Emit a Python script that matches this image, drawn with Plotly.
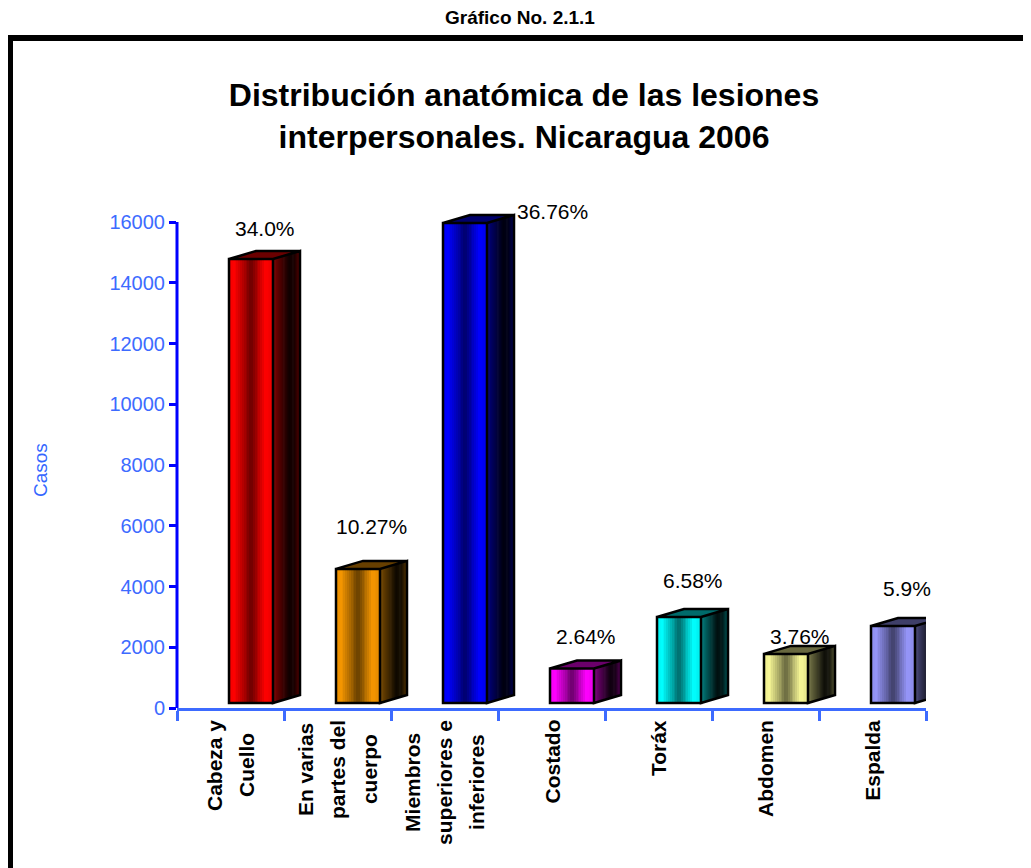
import plotly.graph_objects as go

# ---------------- data ----------------
categories = ["Cabeza y<br>Cuello", "En varias<br>partes del<br>cuerpo", "Miembros<br>superiores e<br>inferiores",
              "Costado", "Toráx", "Abdomen", "Espalda"]
casos = [14617, 4415, 15803, 1135, 2829, 1616, 2536]
pct_labels = ["34.0%", "10.27%", "36.76%", "2.64%", "6.58%", "3.76%", "5.9%"]
label_y = [15770, 5960, 16360, 2370, 4210, 2370, 3950]
y_ticks = [0, 2000, 4000, 6000, 8000, 10000, 12000, 14000, 16000]
y_tick_text = ["0", "2000", "4000", "6000", "8000", "10000", "12000", "14000", "16000"]

# ---------------- style ----------------
bar_colors = [(255, 0, 0), (245, 150, 0), (0, 0, 255), (255, 0, 255), (0, 255, 255), (248, 248, 150), (150, 150, 250)]
label_dx = [0, 0, 0.69, 0, 0, 0, 0]
FONT = "Liberation Sans, Arial, sans-serif"
AX_BLUE = "#0000ff"
LT_BLUE = "#3d6bff"

OFF = 8                      # page body margin
SW, SH = 1031, 868           # screen size
W, H = SW - OFF, SH - OFF
plot_w, plot_h = 749, 528
PL, PT = 177 - OFF, 180 - OFF
PR, PB = W - PL - plot_w, H - PT - plot_h
ymax = 16000 * plot_h / 486.0
upp = ymax / plot_h               # data units per pixel (y)
xupp = 7.0 / plot_w               # data units per pixel (x)

base_off = 5 * upp
bar_off = -1.5 * xupp
bar_w = 44 * xupp
depth_x = 27 * xupp
depth_y = 8 * upp
N = 24

CAT_FS = 21
LINE_SP = 32
BOLD_W = {'a': 556, 'b': 611, 'c': 556, 'd': 611, 'e': 556, 'f': 333, 'g': 611, 'h': 611, 'i': 278, 'j': 278,
          'k': 556, 'l': 278, 'm': 889, 'n': 611, 'o': 611, 'p': 611, 'q': 611, 'r': 389, 's': 556, 't': 333,
          'u': 611, 'v': 556, 'w': 778, 'x': 556, 'y': 556, 'z': 500, ' ': 278, 'C': 722, 'E': 667, 'M': 833,
          'T': 611, 'A': 722, 'á': 556, 'ó': 611}


def text_len(s, fs):
    return sum(BOLD_W.get(ch, 600) for ch in s) * fs / 1000.0


def interp(pts, t):
    for (t0, v0), (t1, v1) in zip(pts, pts[1:]):
        if t0 <= t <= t1:
            return v0 + (v1 - v0) * (t - t0) / (t1 - t0)
    return pts[-1][1]


front_prof = [(0, 0.95), (0.12, 1.0), (0.5, 0.42), (0.82, 1.0), (1.0, 0.92)]
side_prof = [(0, 0.5), (0.6, 0.06), (0.8, 0.1), (1.0, 0.36)]


def shade(c, f):
    return "rgb(%d,%d,%d)" % tuple(max(0, min(255, int(round(v * f)))) for v in c)


def px(xs):      # screen x -> paper x
    return (xs - (PL + OFF)) / plot_w


def py(ys):      # screen y -> paper y
    return (PT + OFF + plot_h - ys) / plot_h


fig = go.Figure()
xpos = list(range(len(categories)))

# front faces: gradient strips drawn as bars
s = bar_w / N
for j in range(N):
    t = (j + 0.5) / N
    off = bar_off + j * s
    w = min(s * 1.6, bar_off + bar_w - off)
    fig.add_trace(go.Bar(
        x=xpos, y=casos, base=base_off, width=w, offset=off,
        marker=dict(color=[shade(c, interp(front_prof, t)) for c in bar_colors], line=dict(width=0)),
        hoverinfo="skip", showlegend=False))

shapes = []
sd = depth_x / N
for i, (v, c) in enumerate(zip(casos, bar_colors)):
    xl = i + bar_off
    xr = xl + bar_w
    b = base_off
    T = base_off + v
    for j in range(N):
        t = (j + 0.5) / N
        ua = j * sd
        ub = min((j + 1.6) * sd, depth_x)
        fa, fb = ua / depth_x, ub / depth_x
        path = "M %f,%f L %f,%f L %f,%f L %f,%f Z" % (
            xr + ua, b + fa * depth_y, xr + ub, b + fb * depth_y,
            xr + ub, T + fb * depth_y, xr + ua, T + fa * depth_y)
        shapes.append(dict(type="path", path=path, xref="x", yref="y",
                           fillcolor=shade(c, interp(side_prof, t)), line=dict(width=0)))
    top_path = "M %f,%f L %f,%f L %f,%f L %f,%f Z" % (
        xl, T, xr, T, xr + depth_x, T + depth_y, xl + depth_x, T + depth_y)
    shapes.append(dict(type="path", path=top_path, xref="x", yref="y",
                       fillcolor=shade(c, 0.42), line=dict(width=0)))
    outline = ("M %f,%f L %f,%f L %f,%f L %f,%f Z " % (xl, b, xr, b, xr, T, xl, T) +
               "M %f,%f L %f,%f L %f,%f L %f,%f Z " % (xr, b, xr + depth_x, b + depth_y, xr + depth_x, T + depth_y, xr, T) +
               top_path)
    shapes.append(dict(type="path", path=outline, xref="x", yref="y",
                       fillcolor="rgba(0,0,0,0)", line=dict(color="black", width=2.5)))

# y axis line (0..16000)
shapes.append(dict(type="line", xref="paper", yref="y", x0=0, x1=0, y0=0, y1=y_ticks[-1],
                   line=dict(color=AX_BLUE, width=3)))
# frame
shapes.append(dict(type="rect", xref="paper", yref="paper", x0=px(10), x1=px(1050), y0=py(890), y1=py(38),
                   line=dict(color="black", width=6), fillcolor="rgba(0,0,0,0)"))

annotations = []
for i, (lab, ly) in enumerate(zip(pct_labels, label_y)):
    annotations.append(dict(x=i + bar_off + (bar_w + depth_x) / 2 + label_dx[i], y=ly, xref="x", yref="y",
                            text=lab, showarrow=False, font=dict(family=FONT, size=21, color="black"),
                            xanchor="center", yanchor="middle"))
for i, cat in enumerate(categories):
    lines = cat.split("<br>")
    n = len(lines)
    maxlen = max(text_len(ln, CAT_FS) for ln in lines)
    for k, ln in enumerate(lines):
        annotations.append(dict(x=i, y=0, xref="x", yref="y", text="<b>%s</b>" % ln, showarrow=False,
                                textangle=-90, xanchor="center", yanchor="middle",
                                xshift=(k - (n - 1) / 2.0) * LINE_SP, yshift=-(12 + maxlen / 2.0),
                                font=dict(family=FONT, size=CAT_FS, color="black")))
annotations.append(dict(x=px(40), y=py(470), xref="paper", yref="paper", text="Casos", showarrow=False,
                        textangle=-90, xanchor="center", yanchor="middle",
                        font=dict(family=FONT, size=19, color="#3366ff")))
annotations.append(dict(x=px(520), y=py(17), xref="paper", yref="paper", text="<b>Gráfico No. 2.1.1</b>",
                        showarrow=False, xanchor="center", yanchor="middle",
                        font=dict(family=FONT, size=19, color="black")))

fig.update_layout(
    width=W, height=H, barmode="overlay", bargap=0,
    margin=dict(l=PL, r=PR, t=PT, b=PB, pad=0),
    paper_bgcolor="white", plot_bgcolor="white", showlegend=False,
    title=dict(text="<b>Distribución anatómica de las lesiones<br>interpersonales. Nicaragua 2006</b>",
               x=(524 - OFF) / W, xref="container", xanchor="center", y=1 - 98 / H, yref="container",
               yanchor="middle", font=dict(family=FONT, size=32, color="black")),
    xaxis=dict(range=[-0.5, 6.5], showgrid=False, zeroline=False, showline=True, linecolor=LT_BLUE, linewidth=3,
               tickvals=[k - 0.5 for k in range(len(categories) + 1)], ticktext=[""] * (len(categories) + 1),
               ticks="outside", ticklen=10, tickwidth=2.5, tickcolor=LT_BLUE, showticklabels=False),
    yaxis=dict(range=[0, ymax], showgrid=False, zeroline=False, showline=False,
               tickvals=y_ticks, ticktext=y_tick_text, ticks="outside", ticklen=7, tickwidth=2.5,
               tickcolor=AX_BLUE, tickfont=dict(family=FONT, size=20, color=LT_BLUE)),
    shapes=shapes, annotations=annotations,
)

fig.write_html("out.html")
